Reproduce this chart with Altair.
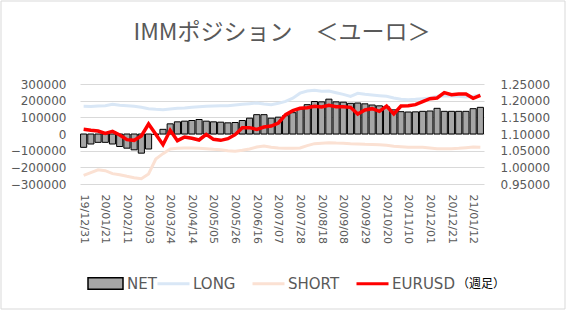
import altair as alt
import pandas as pd

dates = ["19/12/31", "20/01/07", "20/01/14", "20/01/21", "20/01/28", "20/02/04", "20/02/11",
         "20/02/18", "20/02/25", "20/03/03", "20/03/10", "20/03/17", "20/03/24", "20/03/31",
         "20/04/07", "20/04/14", "20/04/21", "20/04/28", "20/05/05", "20/05/12", "20/05/19",
         "20/05/26", "20/06/02", "20/06/09", "20/06/16", "20/06/23", "20/06/30", "20/07/07",
         "20/07/14", "20/07/21", "20/07/28", "20/08/04", "20/08/11", "20/08/18", "20/08/25",
         "20/09/01", "20/09/08", "20/09/15", "20/09/22", "20/09/29", "20/10/06", "20/10/13",
         "20/10/20", "20/10/27", "20/11/03", "20/11/10", "20/11/17", "20/11/24", "20/12/01",
         "20/12/08", "20/12/15", "20/12/21", "20/12/28", "21/01/05", "21/01/12", "21/01/19"]

tick_dates = ["19/12/31", "20/01/21", "20/02/11", "20/03/03", "20/03/24", "20/04/14", "20/05/05",
              "20/05/26", "20/06/16", "20/07/07", "20/07/28", "20/08/18", "20/09/08", "20/09/29",
              "20/10/20", "20/11/10", "20/12/01", "20/12/21", "21/01/12"]

net = [-80000, -60000, -50000, -50000, -60000, -75000, -85000, -95000, -115000, -90000,
       -3000, 28000, 61000, 73000, 77000, 81000, 87000, 77000, 73000, 71000,
       67000, 69000, 81000, 95000, 116000, 116000, 95000, 101000, 110000, 128000,
       150000, 176000, 195000, 193000, 209000, 193000, 191000, 184000, 186000, 181000,
       174000, 169000, 163000, 145000, 134000, 132000, 133000, 136000, 138000, 154000,
       136000, 136000, 136000, 136000, 152000, 160000]

long_pos = [166000, 165000, 168000, 170000, 178000, 172000, 170000, 166000, 160000, 152000,
            148000, 145000, 150000, 154000, 156000, 160000, 164000, 166000, 168000, 170000,
            170000, 174000, 178000, 182000, 186000, 180000, 176000, 184000, 196000, 215000,
            245000, 258000, 262000, 256000, 258000, 248000, 238000, 226000, 244000, 238000,
            234000, 230000, 226000, 216000, 208000, 206000, 208000, 212000, 216000, 226000,
            228000, 228000, 226000, 222000, 226000, 234000]

short_pos = [-248000, -232000, -215000, -220000, -238000, -245000, -254000, -262000, -268000, -240000,
             -150000, -118000, -90000, -86000, -84000, -84000, -85000, -88000, -92000, -95000,
             -100000, -104000, -98000, -90000, -78000, -72000, -80000, -84000, -85000, -86000,
             -84000, -70000, -58000, -55000, -52000, -54000, -55000, -58000, -60000, -62000,
             -63000, -64000, -68000, -74000, -76000, -80000, -80000, -80000, -84000, -88000,
             -88000, -88000, -86000, -82000, -78000, -80000]

eurusd = [1.114, 1.111, 1.109, 1.102, 1.108, 1.097, 1.083, 1.081, 1.094, 1.130,
          1.099, 1.068, 1.111, 1.080, 1.091, 1.087, 1.082, 1.099, 1.084, 1.081,
          1.086, 1.098, 1.119, 1.119, 1.114, 1.121, 1.124, 1.133, 1.158, 1.170,
          1.177, 1.179, 1.183, 1.181, 1.186, 1.182, 1.182, 1.180, 1.160, 1.172,
          1.176, 1.168, 1.184, 1.160, 1.184, 1.185, 1.188, 1.197, 1.206, 1.208,
          1.224, 1.218, 1.220, 1.220, 1.207, 1.216]

series_names = ["LONG", "SHORT", "EURUSD"]
series_colors = ["#d9e7f6", "#fbe1d3", "#ff0000"]

df = pd.DataFrame({"date": dates, "NET": net, "LONG": long_pos, "SHORT": short_pos, "EURUSD": eurusd})
df["net_s"] = "NET"
lines_df = df.melt(id_vars=["date"], value_vars=["LONG", "SHORT"], var_name="series", value_name="value")
fx_df = df[["date", "EURUSD"]].assign(series="EURUSD")

FONT = "DejaVu Sans"
GRAY = "#595959"

x_enc = alt.X(
    "date:O",
    sort=dates,
    scale=alt.Scale(domain=dates, paddingInner=0.15, paddingOuter=0.08),
    axis=alt.Axis(values=tick_dates, labelAngle=90, title=None, domain=False, ticks=False,
                  labelPadding=10, labelFontSize=11, grid=False),
)

left_scale = alt.Scale(domain=[-300000, 300000], nice=False, zero=False)
left_axis = alt.Axis(values=[-300000, -200000, -100000, 0, 100000, 200000, 300000], format="d",
                     title=None, labelPadding=14, grid=True)

color_scale = alt.Scale(domain=series_names, range=series_colors)
line_legend = alt.Legend(
    orient="none", legendX=76, legendY=182, direction="horizontal", padding=0,
    title="（週足）", titleOrient="right", titleFont="Noto Sans CJK JP", titleFontSize=12,
    titleFontWeight="normal", titleColor="#000000", titlePadding=2,
    titleAnchor="middle", titleBaseline="top",
    symbolType="stroke", symbolSize=1024, symbolStrokeWidth=3,
    labelFont=FONT, labelFontSize=15, labelColor=GRAY, labelOffset=2, columnPadding=10,
)

bars = alt.Chart(df).mark_bar(stroke="#000000", strokeWidth=1).encode(
    x=x_enc,
    y=alt.Y("NET:Q", scale=left_scale, axis=left_axis),
    fill=alt.Fill("net_s:N", scale=alt.Scale(domain=["NET"], range=["#a6a6a6"]),
                  legend=alt.Legend(orient="none", legendX=7, legendY=181, padding=0, title=None,
                                    symbolType="M-1,-0.33H1V0.33H-1Z", symbolSize=1225,
                                    symbolStrokeColor="#000000", symbolStrokeWidth=1.5,
                                    labelFont=FONT, labelFontSize=15, labelColor=GRAY, labelOffset=3)),
)

lines = alt.Chart(lines_df).mark_line(strokeWidth=3).encode(
    x=x_enc,
    y=alt.Y("value:Q", scale=left_scale, axis=left_axis),
    color=alt.Color("series:N", scale=color_scale, legend=line_legend),
    detail="series:N",
)

frame = alt.Chart(pd.DataFrame({"f": [0]})).mark_rect(fillOpacity=0, stroke="#d9d9d9", strokeWidth=1).encode(
    x=alt.value(-79), x2=alt.value(485), y=alt.value(-83), y2=alt.value(225)
)

left = alt.layer(frame, bars, lines)

fx = alt.Chart(fx_df).mark_line(strokeWidth=3.5).encode(
    x=x_enc,
    y=alt.Y("EURUSD:Q", scale=alt.Scale(domain=[0.95, 1.25], nice=False, zero=False),
            axis=alt.Axis(orient="right", values=[0.95, 1.0, 1.05, 1.1, 1.15, 1.2, 1.25], format=".5f",
                          title=None, grid=False, labelPadding=16)),
    color=alt.Color("series:N", scale=color_scale, legend=line_legend),
)

chart = alt.layer(left, fx).resolve_scale(y="independent").properties(
    width=404, height=100,
    padding={"left": 80, "top": 84, "right": 83, "bottom": 127},
    autosize=alt.AutoSizeParams(type="none"),
    background="#ffffff",
    title=alt.TitleParams("IMMポジション　＜ユーロ＞", font="Noto Sans CJK JP", fontSize=23,
                          color=GRAY, fontWeight="normal", anchor="middle", frame="group",
                          offset=0, dy=44),
).configure_axis(
    gridColor="#d9d9d9", domain=False, ticks=False, labelFont=FONT, labelColor=GRAY, labelFontSize=12,
).configure_view(strokeWidth=0)

chart.save("out.html", embed_options={"renderer": "svg", "actions": False})
